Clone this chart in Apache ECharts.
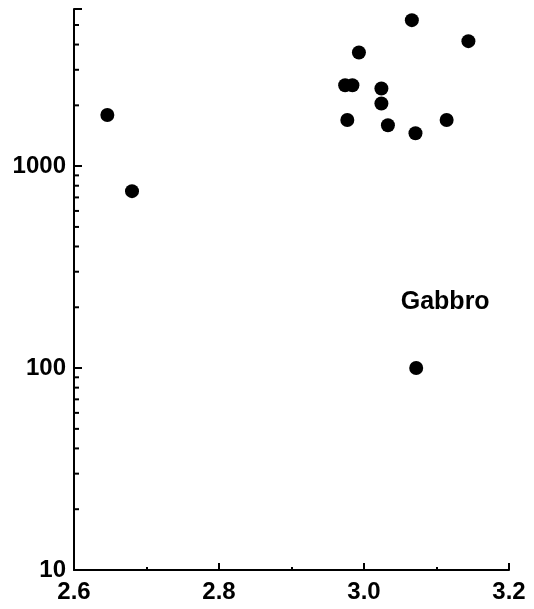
<!DOCTYPE html>
<html>
<head>
<meta charset="utf-8">
<script src="https://cdn.jsdelivr.net/npm/echarts@6/dist/echarts.min.js"></script>
<style>html,body{margin:0;padding:0;background:#fff}#c{width:534px;height:609px}</style>
</head>
<body>
<div id="c"></div>
<script>
// Density (x) vs value (y, log scale)
const densityValues = [3.066, 3.144, 2.993, 2.974, 2.984, 3.024, 3.024, 2.977, 3.033, 3.071, 3.114, 2.646, 2.680, 3.072];
const yValues       = [5285, 4159, 3656, 2517, 2517, 2423, 2042, 1693, 1594, 1454, 1693, 1793, 752, 100];
const xTicks = [2.6, 2.8, 3.0, 3.2];
const yTickLabels = [10, 100, 1000];
const yMinorTicks = [20,30,40,50,60,70,80,90,200,300,400,500,600,700,800,900,2000,3000,4000,5000];
const annotationText = 'Gabbro';
const annotationPos = [3.112, 211];

const font = {fontFamily: 'Liberation Sans', fontWeight: 'bold', fontSize: 24, color: '#000'};
const chart = echarts.init(document.getElementById('c'), null, {renderer: 'canvas'});
chart.setOption({
  animation: false,
  backgroundColor: '#fff',
  grid: {left: 74, right: 25, top: 9, bottom: 39, containLabel: false},
  xAxis: {
    type: 'value', min: xTicks[0], max: xTicks[xTicks.length - 1], interval: 0.2,
    axisLine: {lineStyle: {color: '#000', width: 2}},
    axisTick: {inside: true, length: 7, lineStyle: {color: '#000', width: 2}},
    minorTick: {show: true, splitNumber: 2, length: 3, lineStyle: {color: '#000', width: 2}},
    splitLine: {show: false},
    axisLabel: Object.assign({margin: 10, formatter: v => v.toFixed(1)}, font)
  },
  yAxis: {
    type: 'log', logBase: 10, min: 10, max: 6000,
    axisLine: {lineStyle: {color: '#000', width: 2}},
    axisTick: {inside: true, length: 8, lineStyle: {color: '#000', width: 2}},
    splitLine: {show: false},
    axisLabel: Object.assign({margin: 8, formatter: v => yTickLabels.includes(Math.round(v)) ? String(Math.round(v)) : ''}, font)
  },
  series: [
    {
      type: 'scatter', silent: true, clip: false,
      symbol: 'rect', symbolSize: [4, 2], symbolOffset: [3, 0],
      itemStyle: {color: '#000', opacity: 1},
      data: yMinorTicks.map(v => [xTicks[0], v]), z: 1
    },
    {
      type: 'scatter', symbol: 'circle', symbolSize: 14,
      itemStyle: {color: '#000', opacity: 1},
      data: densityValues.map((x, i) => [x, yValues[i]]), z: 3
    },
    {
      type: 'scatter', silent: true, symbolSize: 0,
      itemStyle: {opacity: 1},
      data: [annotationPos],
      label: Object.assign({show: true, position: 'inside', formatter: annotationText}, font, {fontSize: 25, opacity: 1})
    }
  ]
});
</script>
</body>
</html>
